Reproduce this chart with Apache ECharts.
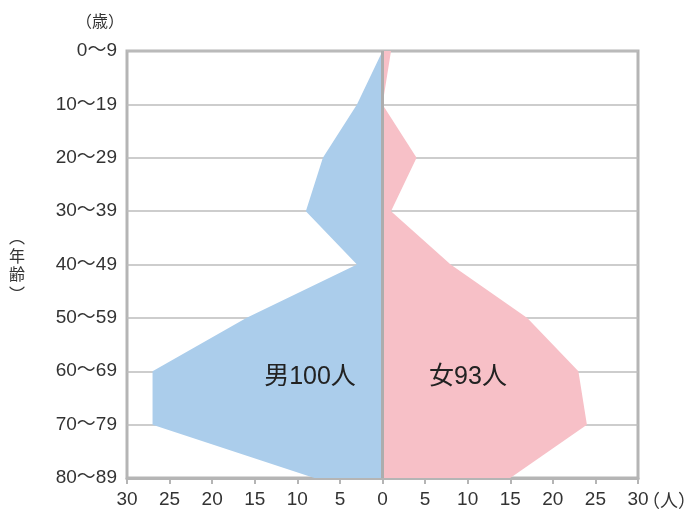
<!DOCTYPE html>
<html>
<head>
<meta charset="utf-8">
<script src="https://cdn.jsdelivr.net/npm/echarts@6/dist/echarts.min.js"></script>
<style>
html,body{margin:0;padding:0;background:#fff;}
#chart{width:698px;height:517px;}
</style>
</head>
<body>
<div id="chart"></div>
<script>
var ageGroups = ['0～9','10～19','20～29','30～39','40～49','50～59','60～69','70～79','80～89'];
var maleCounts = [0, 3, 7, 9, 3, 16, 27, 27, 8];
var femaleCounts = [1, 0, 4, 1, 8, 17, 23, 24, 15];
var xTicks = [-30, 30, 5];
var maleLabel = '男100人';
var femaleLabel = '女93人';

var FONT = '"Liberation Sans", "Noto Sans CJK JP", sans-serif';
var CJK = '"Noto Sans CJK JP", sans-serif';
var chart = echarts.init(document.getElementById('chart'), null, {renderer: 'canvas'});
var option = {
  animation: false,
  backgroundColor: '#fff',
  grid: {left: 127, right: 60, top: 51, bottom: 39, show: true, borderColor: '#b5b5b5', borderWidth: 3, containLabel: false},
  xAxis: {
    type: 'value', min: xTicks[0], max: xTicks[1], interval: xTicks[2],
    axisLine: {show: true, lineStyle: {color: '#b5b5b5', width: 3}},
    axisTick: {show: true, length: 6, lineStyle: {color: '#b5b5b5', width: 2}},
    splitLine: {show: false},
    axisLabel: {formatter: function(v){return Math.abs(v);}, fontSize: 19, color: '#333', fontFamily: FONT, margin: 12}
  },
  yAxis: {
    type: 'category', data: ageGroups, inverse: true, boundaryGap: false,
    axisLine: {show: false},
    axisTick: {show: false},
    splitLine: {show: true, lineStyle: {color: '#bdbdbd', width: 1.5}},
    axisLabel: {fontSize: 19, color: '#333', fontFamily: FONT, margin: 10}
  },
  series: [
    {
      type: 'line', name: '男', data: maleCounts.map(function(v){return -v;}),
      symbol: 'none', lineStyle: {width: 0}, areaStyle: {color: '#abcdeb', opacity: 1}, z: 2
    },
    {
      type: 'line', name: '女', data: femaleCounts,
      symbol: 'none', lineStyle: {width: 0}, areaStyle: {color: '#f7c0c7', opacity: 1}, z: 2,
      markLine: {silent: true, symbol: 'none', label: {show: false}, lineStyle: {color: '#adadad', width: 3, type: 'solid'}, data: [{xAxis: 0}]}
    }
  ],
  graphic: [
    {type: 'text', x: 100, y: 21, z: 100, style: {text: '（歳）', fontSize: 16, fill: '#333', fontFamily: CJK, align: 'center', verticalAlign: 'middle'}},
    {type: 'text', x: 17, y: 237, z: 100, style: {text: '︵', fontSize: 16, fill: '#333', fontFamily: CJK, align: 'center', verticalAlign: 'middle'}},
    {type: 'text', x: 17, y: 256, z: 100, style: {text: '年', fontSize: 16, fill: '#333', fontFamily: CJK, align: 'center', verticalAlign: 'middle'}},
    {type: 'text', x: 17, y: 274, z: 100, style: {text: '齢', fontSize: 16, fill: '#333', fontFamily: CJK, align: 'center', verticalAlign: 'middle'}},
    {type: 'text', x: 17, y: 294, z: 100, style: {text: '︶', fontSize: 16, fill: '#333', fontFamily: CJK, align: 'center', verticalAlign: 'middle'}},
    {type: 'text', x: 669, y: 500, z: 100, style: {text: '（人）', fontSize: 18, fill: '#333', fontFamily: CJK, align: 'center', verticalAlign: 'middle'}},
    {type: 'text', x: 310, y: 377, z: 100, style: {text: maleLabel, fontSize: 25, fill: '#222', fontFamily: FONT, align: 'center', verticalAlign: 'middle'}},
    {type: 'text', x: 468, y: 377, z: 100, style: {text: femaleLabel, fontSize: 25, fill: '#222', fontFamily: FONT, align: 'center', verticalAlign: 'middle'}}
  ]
};
chart.setOption(option);
</script>
</body>
</html>
